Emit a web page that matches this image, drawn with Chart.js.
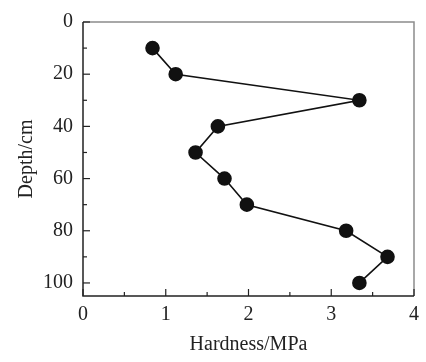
<!DOCTYPE html>
<html><head><meta charset="utf-8">
<script src="https://cdn.jsdelivr.net/npm/chart.js"></script>
<style>html,body{margin:0;padding:0;background:#fff}</style>
</head><body>
<canvas id="c" width="426" height="362"></canvas>
<script>
const depth = [10, 20, 30, 40, 50, 60, 70, 80, 90, 100];
const hardness = [0.84, 1.12, 3.34, 1.63, 1.36, 1.71, 1.98, 3.18, 3.68, 3.34];
const xTicks = [0, 1, 2, 3, 4];
const xMinorTicks = [0.5, 1.5, 2.5, 3.5];
const yTicks = [0, 20, 40, 60, 80, 100];
const yMinorTicks = [10, 30, 50, 70, 90];
const xTitle = 'Hardness/MPa';
const yTitle = 'Depth/cm';

const framePlugin = {
  id: 'frame',
  afterDraw(chart) {
    const {ctx, chartArea: {left, right, top, bottom}, scales: {x, y}} = chart;
    ctx.save();
    ctx.lineCap = 'butt';
    ctx.strokeStyle = '#8c8c8c';
    ctx.lineWidth = 1.5;
    ctx.beginPath();
    ctx.moveTo(left, top); ctx.lineTo(right, top); ctx.lineTo(right, bottom);
    ctx.stroke();
    ctx.strokeStyle = '#222';
    ctx.beginPath();
    ctx.moveTo(left, top); ctx.lineTo(left, bottom); ctx.lineTo(right, bottom);
    ctx.stroke();
    ctx.lineWidth = 1.2;
    const seg = (x1, y1, x2, y2) => { ctx.beginPath(); ctx.moveTo(x1, y1); ctx.lineTo(x2, y2); ctx.stroke(); };
    xTicks.forEach(v => { const p = x.getPixelForValue(v); seg(p, bottom, p, bottom - 7); });
    xMinorTicks.forEach(v => { const p = x.getPixelForValue(v); seg(p, bottom, p, bottom - 4); });
    yTicks.forEach(v => { const p = y.getPixelForValue(v); seg(left, p, left + 7, p); });
    yMinorTicks.forEach(v => { const p = y.getPixelForValue(v); seg(left, p, left + 4, p); });
    ctx.restore();
  }
};

const ch = new Chart(document.getElementById('c'), {
  type: 'scatter',
  data: {
    datasets: [{
      data: depth.map((d, i) => ({x: hardness[i], y: d})),
      showLine: true,
      borderColor: '#111',
      borderWidth: 1.6,
      backgroundColor: '#111',
      pointBackgroundColor: '#111',
      pointBorderColor: '#111',
      pointRadius: 6.5,
      pointHoverRadius: 6.5
    }]
  },
  options: {
    responsive: false,
    animation: false,
    layout: {padding: {left: 14, right: 10, top: 13, bottom: 0}},
    plugins: {legend: {display: false}, tooltip: {enabled: false}},
    scales: {
      x: {
        min: 0, max: 4,
        grid: {display: false, drawTicks: false},
        border: {display: false},
        afterBuildTicks: s => { s.ticks = xTicks.map(v => ({value: v})); },
        afterFit: s => { s.height = 66; },
        ticks: {color: '#222', padding: 7, maxRotation: 0, font: {family: "'Liberation Serif'", size: 20}},
        title: {display: true, text: xTitle, color: '#222', padding: {top: 0, bottom: 5}, font: {family: 'Liberation Serif', size: 20}}
      },
      y: {
        min: 0, max: 105, reverse: true,
        grid: {display: false, drawTicks: false},
        border: {display: false},
        afterBuildTicks: s => { s.ticks = yTicks.map(v => ({value: v})); },
        afterFit: s => { s.width = 69; },
        ticks: {color: '#222', padding: 10, font: {family: "'Liberation Serif'", size: 20}},
        title: {display: true, text: yTitle, color: '#222', padding: {top: 1, bottom: 0}, font: {family: 'Liberation Serif', size: 20}}
      }
    }
  },
  plugins: [framePlugin]
});
</script>
</body></html>
